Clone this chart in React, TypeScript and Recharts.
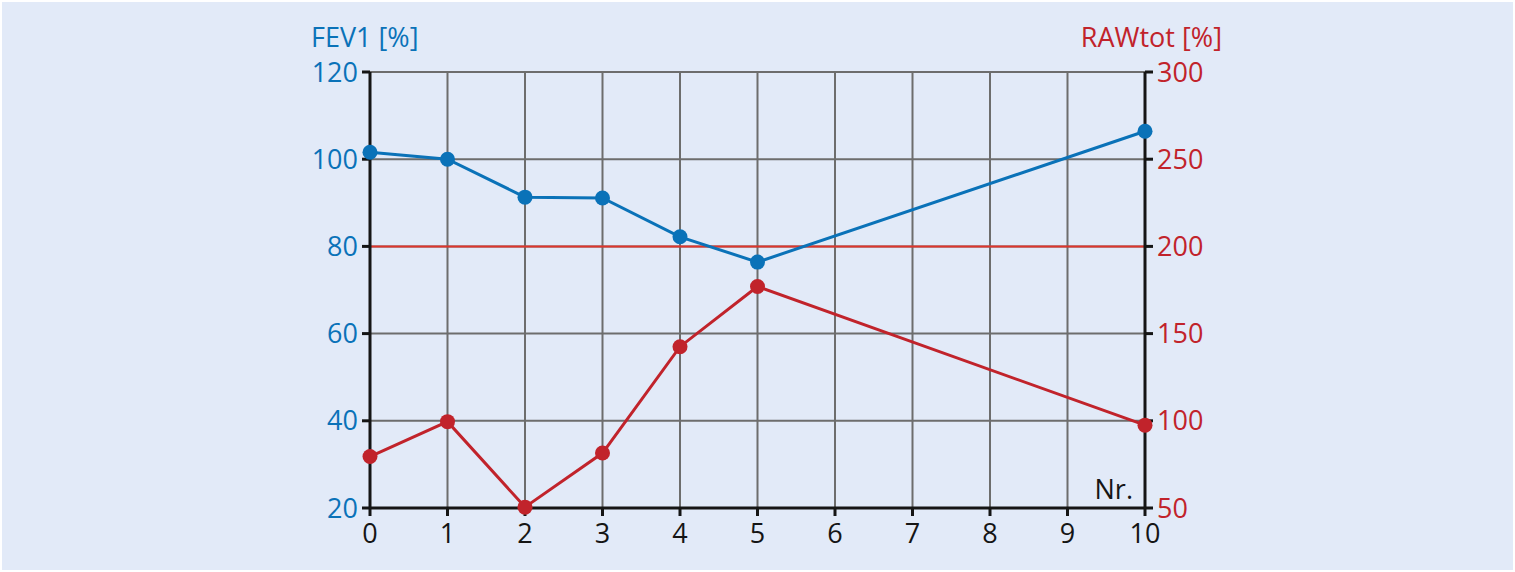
import React from "react";
import { LineChart, Line, XAxis, YAxis, CartesianGrid, ReferenceLine } from "recharts";

const nr = [0, 1, 2, 3, 4, 5, 10];
const fev1 = [101.6, 100.0, 91.3, 91.1, 82.2, 76.4, 106.4];
const rawtot = [79.5, 99.5, 50.5, 81.5, 142.5, 177, 97.5];
const xTicks = [0, 1, 2, 3, 4, 5, 6, 7, 8, 9, 10];
const leftTicks = [20, 40, 60, 80, 100, 120];
const rightTicks = [50, 100, 150, 200, 250, 300];
const rawThreshold = 200;

const data = nr.map((n, i) => ({ nr: n, fev1: fev1[i], raw: rawtot[i] }));

const BLUE = "#0a72b8";
const RED = "#c1232b";
const FONT = "'Open Sans', 'Noto Sans', sans-serif";
const AX = { stroke: "#151515", strokeWidth: 3 };

export default function App() {
  return (
    <div style={{ position: "absolute", left: 0, top: 0, width: 1515, height: 572, background: "#ffffff" }}>
      <div style={{ position: "absolute", left: 2, top: 2, width: 1511, height: 568, background: "#e2eaf8" }} />
      <div style={{ position: "absolute", left: 0, top: 0 }}>
        <LineChart width={1515} height={572} data={data} margin={{ top: 72, right: 0, bottom: 0, left: 0 }}>
          <CartesianGrid yAxisId="l" stroke="#6d6d6d" strokeWidth={2} fill="none" />
          <XAxis
            dataKey="nr"
            type="number"
            domain={[0, 10]}
            ticks={xTicks}
            interval={0}
            height={64}
            tickSize={8}
            tickMargin={8}
            axisLine={AX}
            tickLine={AX}
            tick={{ fill: "#151515", fontSize: 27, fontFamily: FONT }}
          />
          <YAxis
            yAxisId="l"
            orientation="left"
            domain={[20, 120]}
            ticks={leftTicks}
            interval={0}
            width={370}
            tickSize={8}
            tickMargin={4}
            axisLine={AX}
            tickLine={AX}
            tick={{ fill: BLUE, fontSize: 27, fontFamily: FONT }}
          />
          <YAxis
            yAxisId="r"
            orientation="right"
            domain={[50, 300]}
            ticks={rightTicks}
            interval={0}
            width={370}
            tickSize={8}
            tickMargin={4}
            axisLine={AX}
            tickLine={AX}
            tick={{ fill: RED, fontSize: 27, fontFamily: FONT }}
          />
          <ReferenceLine yAxisId="r" y={rawThreshold} stroke="#e0352c" strokeWidth={2} />
          <Line
            yAxisId="r"
            dataKey="raw"
            type="linear"
            stroke={RED}
            strokeWidth={3}
            dot={{ r: 7.5, fill: RED, stroke: RED, strokeWidth: 0 }}
            isAnimationActive={false}
          />
          <Line
            yAxisId="l"
            dataKey="fev1"
            type="linear"
            stroke={BLUE}
            strokeWidth={3}
            dot={{ r: 7.5, fill: BLUE, stroke: BLUE, strokeWidth: 0 }}
            isAnimationActive={false}
          />
        </LineChart>
      </div>
      <svg style={{ position: "absolute", left: 0, top: 0, pointerEvents: "none" }} width={1515} height={572}>
        <text x={311} y={47} fill={BLUE} fontSize={27} fontFamily={FONT}>FEV1 [%]</text>
        <text x={1222} y={47} fill={RED} fontSize={27} fontFamily={FONT} textAnchor="end">RAWtot [%]</text>
        <text x={1133} y={499} fill="#151515" fontSize={27} fontFamily={FONT} textAnchor="end">Nr.</text>
      </svg>
    </div>
  );
}
